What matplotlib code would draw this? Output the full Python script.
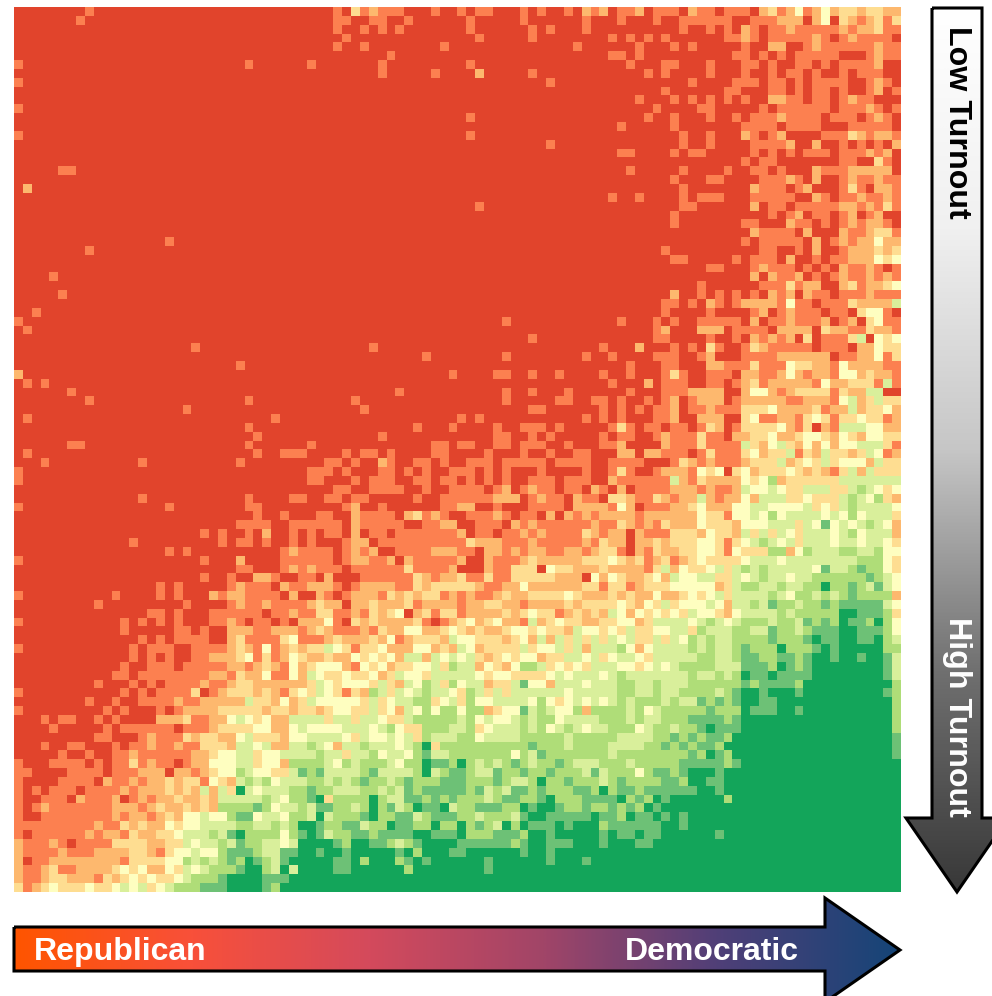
#!/usr/bin/env python3
"""Turnout vs partisanship heatmap with gradient axis arrows. Writes out.png."""
import matplotlib
matplotlib.use("Agg")
import matplotlib.pyplot as plt
import numpy as np
from matplotlib.colors import BoundaryNorm, LinearSegmentedColormap, ListedColormap
from matplotlib.patches import Polygon

plt.rcParams["font.family"] = ["Liberation Sans", "DejaVu Sans"]

# colour classes, 0 = strongly Republican ... 8 = strongly Democratic
CLASS_COLORS = ["#E1442C", "#FC8050", "#FDB86E", "#FEDD91", "#FEFEC0",
                "#D9EF9B", "#AFDD78", "#6DC176", "#13A55A"]
X_LABELS = ["Republican", "Democratic"]
Y_LABELS = ["Low Turnout", "High Turnout"]
X_GRADIENT = ["#FF5500", "#F8503A", "#D44A5C", "#A04568", "#4E3F78", "#154577"]
Y_GRADIENT = ["#FFFFFF", "#F0F0F0", "#C6C6C6", "#707070", "#383838"]

# one string per row (top = low turnout), ten columns per group
CELLS = [
    "0000000010 0000000000 0000000000 0000001031 2111000100 1011000101 0010212011 2011102110 1110231241 2423323322",
    "0000000100 0000000000 0000000000 0000001100 1100100000 0100000100 0000100010 0010011111 1001112220 2403212313",
    "0000000000 0000000000 0000000000 0000001001 0101000000 0100000010 1000100000 0000010010 1021011211 1112122311",
    "0000000000 0000000000 0000000000 0000000100 0000000000 0010000010 0000000101 0101000000 1121011111 2101211110",
    "0000000000 0000000000 0000000000 0000001001 0000000010 0000000000 0001000000 1000101000 0010022001 2111111211",
    "0000000000 0000000000 0000000000 0000000000 0010000000 0000000000 0000000110 1000000000 0110101011 1110001211",
    "1000000000 0000000000 0000001000 0001000000 0100000000 0100000000 0000000001 0001100010 0011010011 0101111200",
    "0000000000 0000000000 0000000000 0000000000 0100000100 0020000010 0000000000 0101000010 0010010110 1001011100",
    "1000000000 0000000000 0000000000 0000000000 0000000000 0000000000 1000000000 0000001000 0111011010 1111001210",
    "0000000000 0000000000 0000000000 0000000000 0000000000 0000000000 0000000000 0001000000 1100011010 1101001201",
    "0000000000 0000000000 0000000000 0000000000 0000000000 0000000000 0000000000 1000101010 1010022110 1101211000",
    "1000000000 0000000000 0000000000 0000000000 0000000000 0000000000 0000000000 0010000110 0000101111 1101112101",
    "0000000000 0000000000 0000000000 0000000000 0000000000 0100000000 0000000000 0100100010 0101112111 1011101210",
    "0000000000 0000000000 0000000000 0000000000 0000000000 0000000000 0000000010 0000100000 0011110111 1000111110",
    "1000000000 0000000000 0000000000 0000000000 0000000000 0100000000 0000000000 0000010010 0021012000 0111321221",
    "0000000000 0000000000 0000000000 0000000000 0000000000 0000000000 1000000000 0000010010 0001111200 2001010102",
    "0000000000 0000000000 0000000000 0000000000 0000000000 0000000000 0000000011 0000101100 0001010101 1101112120",
    "0000000000 0000000000 0000000000 0000000000 0000000000 0000000000 0000000000 0000000000 0010110000 0001100310",
    "0000011000 0000000000 0000000000 0000000000 0000000000 0000000000 0000000001 0000010000 1001101000 2111222220",
    "0000000000 0000000000 0000000000 0000000000 0000000000 0000000000 0000000000 0000100011 0000111210 2001211211",
    "0200000000 0000000000 0000000000 0000000000 0000000000 0000000000 0000000000 0000010000 0002111012 0001310221",
    "0000000000 0000000000 0000000000 0000000000 0000000000 0000000000 0000000100 1000010111 0001111100 2101121121",
    "0000000000 0000000000 0000000000 0000000000 0000000000 0010000000 0000000000 0000011000 0002011011 1112212131",
    "0000000000 0000000000 0000000000 0000000000 0000000000 0000000000 0000000000 0000100000 0000010120 1101201200",
    "0000000000 0000000000 0000000000 0000000000 0000000000 0000000000 0000000000 0000100000 0011000211 0101212210",
    "0000000000 0000000000 0000000000 0000000000 0000000000 0000000000 0000000000 0000000000 0002111102 0002112331",
    "0000000000 0000000100 0000000000 0000000000 0000000000 0000000000 0000000000 0000000000 0010111110 2012122422",
    "0000000010 0000000000 0000000000 0000000000 0000000000 0000000000 0000000000 0001000000 0000110010 2001222323",
    "0000000000 0000000000 0000000000 0000000000 0000000000 0000000000 0000000000 0000110000 0101110200 1011222434",
    "0000000000 0000000000 0000000000 0000000000 0000000000 0000000000 0000000000 0000000011 0001211101 0102112101",
    "0000100000 0000000000 0000000000 0000000000 0000000000 0000000000 0000000000 0000000000 0002021120 1012112121",
    "0000000000 0000000000 0000000000 0000000000 0000000000 0000000000 0000000000 0000000100 0000111312 2002312234",
    "0000010000 0000000000 0000000000 0000000000 0000000000 0000000000 0000000000 0000200101 0101021202 1101112111",
    "0000000000 0000000000 0000000000 0000000000 0000000000 0000000000 0000000000 0001101021 0122221411 0111322225",
    "0010000000 0000000000 0000000000 0000000000 0000000000 0000000000 0000000000 0001000010 0001201211 1011034410",
    "1000000000 0000000000 0000000000 0000000000 0000000000 0000010000 0000000010 0010100111 1102011211 1201203411",
    "0100000000 0000000000 0000000000 0000000000 0000000000 0000000000 0000000000 0012000222 0111102222 0322113221",
    "0000000000 0000000000 0000000000 0000000000 0000000000 0000000010 0000000000 0011000010 0102121203 0111350434",
    "0000000000 0000000000 1000000000 0000000000 1000000000 0000000000 0000001000 2000101031 0013211111 0111022433",
    "0000000000 0000000000 0000000000 0000000000 0000001000 0000010000 0000100100 0011100120 0011112222 2201122413",
    "0000000000 0000000000 0000010000 0000000000 0000000000 0000000000 0000000001 0001100022 1113111433 2214222211",
    "2000000000 0000000000 0000000000 0000000000 0000000001 0000110010 0100001001 0001310011 1022112421 2214423221",
    "0101000000 0000000000 0000000000 0000000000 0000000000 0000000000 0000000100 0201110011 0123122222 1422333151",
    "0000001000 0000000000 0000000000 0000000000 0001000000 0000010010 0010000001 0001112222 0024421233 3313225500",
    "0000000010 0000000000 0000001000 0000000010 0000000000 0000010000 0110011010 0101201222 0122222112 2214523533",
    "0000000000 0000000001 0000000000 0000000001 0000000000 0000000011 0000001010 1011201121 1133342222 3122523342",
    "0100000000 0000000000 0000000001 0000000000 0000000000 1010000000 0000101010 0011200222 0034112213 4313343312",
    "0000000000 0000000000 0000001000 0000000000 0000010001 0000100111 0100000131 0110110132 0133334213 0215554422",
    "0000000000 0000000000 0000000100 0000000000 0100000000 0000110010 1000001011 0012111311 0223342234 4324324433",
    "0000001100 0000000000 0000001000 0001000000 0000000110 1100110111 0010001120 0002111311 1153245324 2424455531",
    "0100000000 0000000000 0000000100 1110000101 1010000110 0001000100 1001100022 0221110131 1134233513 2533235412",
    "0001000000 0000100000 0000010000 0000011010 0210011010 0111011111 0111100111 1000132121 1123335234 3534442533",
    "1000000000 0000000000 0000000000 0001110100 0110101001 1101010001 0000100131 0012221434 0342333432 3213525333",
    "1000000000 0000000000 0000000000 0001100010 1110011011 0101010011 1011100211 1111521322 2243462333 3335555555",
    "0000000000 0000000000 0000000000 0000001100 1111001001 1110120121 1011021020 1111222121 1254454335 5533565434",
    "0000000000 0000100000 0000001000 0110011011 0000010011 1111222012 1102110332 1132122521 2242555334 3335654632",
    "1000000000 0000000100 0000001100 0000000120 0100000011 2200100011 1102222142 0111223422 2445544445 3435655554",
    "0000000000 0000000000 0000000100 1000110021 1110231210 0111210110 2021212222 1222222433 1445464555 5454645553",
    "0000000000 0000000000 0000011110 0111111021 1111001122 0011102121 1111121132 1213222433 3244455535 4745456542",
    "0000000000 0000000000 0101001020 0101011020 1101111111 2011011212 1111321220 2111333243 3253535435 5545645552",
    "0000000000 0001000000 0001011010 0101000122 0111111111 1322211121 1111213220 2232333443 1345654535 5545545543",
    "0000000000 0000000101 0000000000 1211110121 2001111222 1102212122 1122123310 2132233443 1433366246 5556655644",
    "1000000000 0000000000 0100020000 1111110122 1120211111 2002111232 2222333432 3123123433 3345554555 5555566643",
    "0000000000 0000000000 0000011000 1212111011 1111311112 0002113330 4332223222 2135243345 3565655555 4755676643",
    "0000000000 0000000000 0100100221 0011020001 1111132122 3113113333 3222042432 2342544553 3545655455 6666667654",
    "0000000000 0000001010 0000121110 2112221012 2221132333 3321122422 2222331331 2333444442 3566556556 6866765754",
    "1000000000 0100001010 0021221111 0200210122 2132323312 1211232233 3343222323 2242234345 3555565466 5656766662",
    "0000000001 0000000001 0000121121 1112322022 3222312222 1223322122 2232333343 2435344454 2556576656 6767777754",
    "0000000000 0000011010 0011111101 1211331121 3234023133 1222232343 3123232542 4343435443 2455556566 6668877763",
    "1000000000 0010101010 0011210110 1022241032 3222231012 3423422152 3433223344 2355554565 4566656657 6768776864",
    "0000000000 0010000011 0100222112 2212321112 1322442234 3232234434 3325443435 3344553655 5665576656 7778877764",
    "0000000000 0000101011 1100231111 3411123222 3241233325 4433323425 2535353545 3353546565 5666676667 8778877865",
    "1000000000 0001011100 1111232141 2323354313 3422244232 5423333534 4535255564 2455556565 5676668666 7878888866",
    "0000000000 0001010100 1122234131 2432232243 4342552545 4532343442 3355453455 4355555665 5677667767 8878878875",
    "0000000000 0010011101 1111221232 1423444214 3423344536 5524324665 3434355544 3454566665 5577768767 8888888875",
    "0000000000 0110111111 1122132241 1425433433 4235443555 5543443333 4545554565 5555556556 5687787777 8888888875",
    "0000000001 0001010111 1211233222 2223543444 3532546536 4552335744 2555455566 5565556666 6676777768 8888888886",
    "1000000000 0010101111 3012333232 1343543132 6535456554 3653535555 5545555566 5565566665 6788788878 8888888876",
    "0000000010 0100111121 1222225332 4235444443 5345566345 3644555546 4345454565 6665655767 6788778888 8888888886",
    "1000000000 1010001012 2223333323 3233234433 5342546466 4662344756 5446266665 6456666676 6687778878 8888888886",
    "0001011001 0100002223 1122454342 2555535535 5433566666 5645445656 6455556665 6556667777 6788888888 8888888886",
    "0000100000 1011111101 1123333442 2454444555 4564336665 5634555656 4565455666 4566566787 7788888888 8888888886",
    "0000000001 1000121113 2332245333 2445555435 4454536555 6645555666 6656666655 5566767677 6888888888 8888888887",
    "0001001100 0101121121 1333255452 2556542556 5554568366 6666666676 6656666555 5667676776 8888888888 8888888887",
    "0000010010 0112111111 2234455344 5555655355 6455467556 6666664657 6666666566 6666667687 6888888888 8888888887",
    "1000111101 0113121101 2244455344 2666654656 6654668776 8656567656 6765556665 6666677777 6788888888 8888888888",
    "1100001111 0111222022 1234465443 3576755556 7555568567 7655766766 7666575666 4677678887 8888888888 8888888888",
    "1000011110 2112122323 3143256564 5556656567 6656766677 7666765568 6676665676 6667768877 8888888888 8888888888",
    "1010111011 1121222323 2525385455 5667665556 6565767777 7675657767 6667768677 6777777887 8888888888 8888888888",
    "1001110211 1201212232 2325555565 4667836666 8655776767 6665677667 8666777786 7687888888 6888888888 8888888888",
    "1012111111 1222123223 2326666764 5565776656 8675687785 6677766878 8766766767 6878888888 8888888888 8888888888",
    "1001111111 1212212324 4544677455 4665856667 8667756777 6656665788 7777787768 7787878888 8888888888 8888888888",
    "1111111112 1132322434 4555566556 5688766775 6687766866 8676586877 7878886777 7778878888 8888888888 8888888888",
    "1011111121 2213223345 5565786666 4678756677 6777788777 8666777688 7888887877 8778888887 8888888888 8888888888",
    "2111210111 1333322335 4556576655 4588887688 7765678888 7777776788 7778887888 7788888888 8888888888 8888888888",
    "2111121112 2223321344 5446777655 7788788788 8887868887 7888888788 7888888888 8888888888 8888888888 8888888888",
    "2011222222 2213333446 5656768765 7888887786 8886787888 8887888888 7888788888 8888888888 8888888888 8888888888",
    "2112311222 2343422435 4566678865 8588887788 8888688888 8887888888 8888888888 8888888888 8888888888 8888888888",
    "2112332221 3234343345 6667888877 7888888888 8888888888 8888888888 8888888888 8888888888 8888888888 8888888888",
    "3123433343 3454534566 6777888876 8888888888 8888888888 8888888888 8888888888 8888888888 8888888888 8888888888",
]

W, H = 992, 996


def gradient_arrow(ax, outline, colors, vertical):
    """Draw a black-edged arrow filled with a linear gradient."""
    cmap = LinearSegmentedColormap.from_list("arrow", colors)
    ramp = np.linspace(0, 1, 512)
    ramp = ramp[:, None] if vertical else ramp[None, :]
    xs, ys = zip(*outline)
    im = ax.imshow(ramp, cmap=cmap, aspect="auto", interpolation="bilinear",
                   extent=(min(xs), max(xs), max(ys), min(ys)), zorder=1)
    patch = Polygon(outline, closed=True, fc="none", ec="black", lw=2.2,
                    joinstyle="miter", zorder=2)
    ax.add_patch(patch)
    im.set_clip_path(patch)


def main():
    grid = np.array([[int(ch) for ch in row.replace(" ", "").ljust(100, "8")[:100]]
                     for row in CELLS])

    fig = plt.figure(figsize=(W / 100, H / 100), dpi=100)

    ax = fig.add_axes([14 / W, 1 - 892 / H, 886 / W, 885 / H])
    cmap = ListedColormap(CLASS_COLORS)
    norm = BoundaryNorm(np.arange(-0.5, 9.5), cmap.N)
    ax.imshow(grid, cmap=cmap, norm=norm, aspect="auto", interpolation="nearest")
    ax.set_axis_off()

    # overlay in pixel coordinates for the arrows and their labels
    over = fig.add_axes([0, 0, 1, 1], facecolor="none")
    gradient_arrow(over, [(14, 927), (825, 927), (825, 898), (900, 950),
                          (825, 1002), (825, 971), (14, 971)], X_GRADIENT, False)
    gradient_arrow(over, [(932, 8), (982, 8), (982, 818), (1008, 818), (957, 892),
                          (906, 818), (932, 818)], Y_GRADIENT, True)
    over.set_xlim(0, W)
    over.set_ylim(H, 0)
    over.set_axis_off()

    over.text(120, 952, X_LABELS[0], color="white", fontsize=23, fontweight="bold",
              ha="center", va="center", zorder=3)
    over.text(712, 952, X_LABELS[1], color="white", fontsize=23, fontweight="bold",
              ha="center", va="center", zorder=3)
    over.text(957, 122, Y_LABELS[0], color="black", fontsize=23.2, fontweight="bold",
              rotation=-90, ha="center", va="center", zorder=3)
    over.text(957, 717, Y_LABELS[1], color="white", fontsize=23.2, fontweight="bold",
              rotation=-90, ha="center", va="center", zorder=3)

    fig.savefig("out.png", dpi=100, facecolor="white")
    plt.close(fig)


if __name__ == "__main__":
    main()
